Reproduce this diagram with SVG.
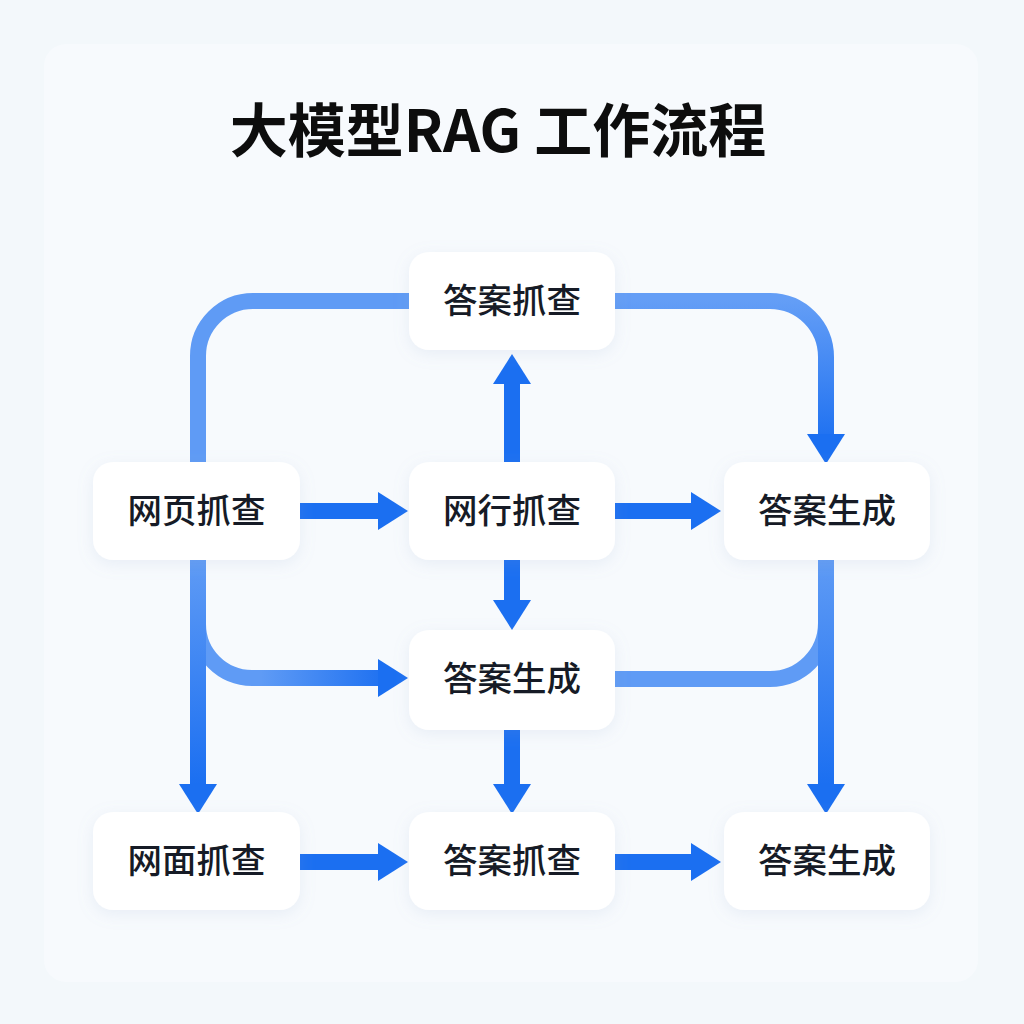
<svg xmlns="http://www.w3.org/2000/svg" width="1024" height="1024" viewBox="0 0 1024 1024">
  <defs>
    <style>
      .node rect { fill: #ffffff; filter: url(#shadow); }
      .node text { font-family: "Noto Sans CJK SC", "Noto Sans", sans-serif; font-size: 34.5px; font-weight: 500; fill: #161b26; text-anchor: middle; }
      .title { font-family: "Noto Sans CJK SC", "Noto Sans", sans-serif; font-size: 58px; font-weight: 700; fill: #0d0d0d; text-anchor: middle; }
      .conn { fill: none; stroke-width: 16; stroke-linecap: butt; stroke-linejoin: round; }
      .solid { stroke: #1b6ff1; }
      .light { stroke: #5f9bf5; }
    </style>
    <filter id="shadow" x="-20%" y="-30%" width="140%" height="160%">
      <feDropShadow dx="0" dy="4" stdDeviation="8" flood-color="#8aa4c8" flood-opacity="0.15"/>
    </filter>
    <marker id="arrow" markerUnits="userSpaceOnUse" markerWidth="32" markerHeight="40" refX="0" refY="20" orient="auto" viewBox="0 0 32 40">
      <path d="M0,1 L30,20 L0,39 Z" fill="#1b6ff1"/>
    </marker>
    <linearGradient id="gTopRight" gradientUnits="userSpaceOnUse" x1="0" y1="300" x2="0" y2="434">
      <stop offset="0" stop-color="#649ef6"/>
      <stop offset="1" stop-color="#2273f1"/>
    </linearGradient>
    <linearGradient id="gVert" gradientUnits="userSpaceOnUse" x1="0" y1="560" x2="0" y2="784">
      <stop offset="0" stop-color="#5f9bf5"/>
      <stop offset="1" stop-color="#1b6ff1"/>
    </linearGradient>
    <linearGradient id="gBranch" gradientUnits="userSpaceOnUse" x1="198" y1="0" x2="378" y2="0">
      <stop offset="0" stop-color="#5f9bf5"/>
      <stop offset="0.35" stop-color="#5f9bf5"/>
      <stop offset="1" stop-color="#2273f1"/>
    </linearGradient>
  </defs>

  <rect x="0" y="0" width="1024" height="1024" fill="#f3f8fb"/>
  <rect x="44" y="44" width="934" height="938" rx="22" fill="#f7fafd"/>

  <text class="title" x="498" y="152">大模型RAG 工作流程</text>

  <g id="connectors">
    <path class="conn light" d="M198,462 L198,356 A55,55 0 0 1 253,301 L409,301"/>
    <path class="conn" stroke="url(#gTopRight)" d="M615,301 L770,301 A56,56 0 0 1 826,357 L826,434" marker-end="url(#arrow)"/>
    <path class="conn solid" d="M512,462 L512,384" marker-end="url(#arrow)"/>
    <path class="conn solid" d="M300,511 L378,511" marker-end="url(#arrow)"/>
    <path class="conn solid" d="M615,511 L691,511" marker-end="url(#arrow)"/>
    <path class="conn solid" d="M512,560 L512,600" marker-end="url(#arrow)"/>
    <path class="conn" stroke="url(#gBranch)" d="M198,624 A54,54 0 0 0 252,678 L378,678" marker-end="url(#arrow)"/>
    <path class="conn light" d="M615,679 L770,679 A56,56 0 0 0 826,623"/>
    <path class="conn" stroke="url(#gVert)" d="M198,560 L198,784" marker-end="url(#arrow)"/>
    <path class="conn" stroke="url(#gVert)" d="M826,560 L826,784" marker-end="url(#arrow)"/>
    <path class="conn solid" d="M512,730 L512,784" marker-end="url(#arrow)"/>
    <path class="conn solid" d="M300,862 L378,862" marker-end="url(#arrow)"/>
    <path class="conn solid" d="M615,862 L691,862" marker-end="url(#arrow)"/>
  </g>

  <g id="node-top-fetch" class="node">
    <rect x="409" y="252" width="206" height="98" rx="20"/>
    <text x="512" y="313">答案抓查</text>
  </g>
  <g id="node-web-page" class="node">
    <rect x="93" y="462" width="207" height="98" rx="20"/>
    <text x="196.5" y="523">网页抓查</text>
  </g>
  <g id="node-web-row" class="node">
    <rect x="409" y="462" width="206" height="98" rx="20"/>
    <text x="512" y="523">网行抓查</text>
  </g>
  <g id="node-gen-right" class="node">
    <rect x="724" y="462" width="206" height="98" rx="20"/>
    <text x="827" y="523">答案生成</text>
  </g>
  <g id="node-gen-mid" class="node">
    <rect x="409" y="630" width="206" height="100" rx="20"/>
    <text x="512" y="691">答案生成</text>
  </g>
  <g id="node-web-face" class="node">
    <rect x="93" y="812" width="207" height="98" rx="20"/>
    <text x="196.5" y="873">网面抓查</text>
  </g>
  <g id="node-fetch-bottom" class="node">
    <rect x="409" y="812" width="206" height="98" rx="20"/>
    <text x="512" y="873">答案抓查</text>
  </g>
  <g id="node-gen-bottom" class="node">
    <rect x="724" y="812" width="206" height="98" rx="20"/>
    <text x="827" y="873">答案生成</text>
  </g>
</svg>
